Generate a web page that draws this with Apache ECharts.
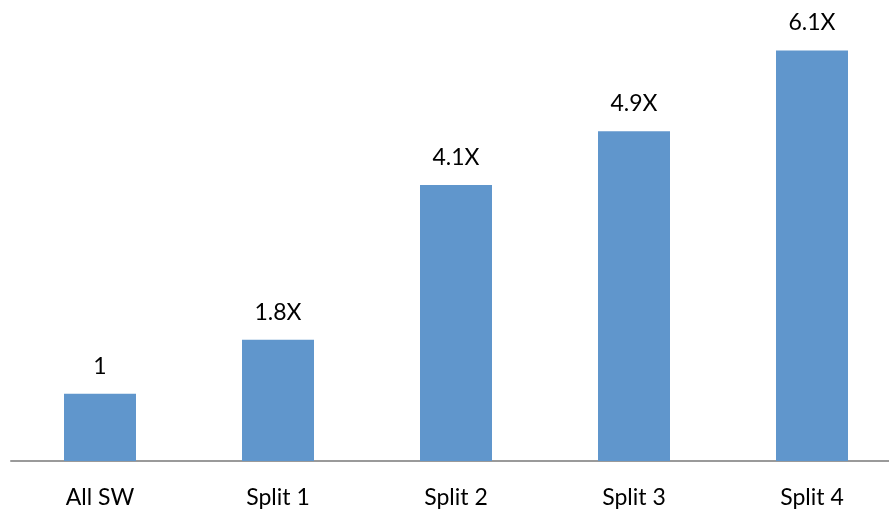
<!DOCTYPE html>
<html>
<head>
<meta charset="utf-8">
<script src="https://cdn.jsdelivr.net/npm/echarts@6/dist/echarts.min.js"></script>
<style>
  html, body { margin: 0; padding: 0; background: #fff; }
  #chart { width: 889px; height: 511px; }
</style>
</head>
<body>
<div id="chart"></div>
<script>
// Speedup of each split configuration relative to the all-software baseline
const categories = ['All SW', 'Split 1', 'Split 2', 'Split 3', 'Split 4'];
const speedups = [1, 1.8, 4.1, 4.9, 6.1];
const valueLabels = ['1', '1.8X', '4.1X', '4.9X', '6.1X'];

const chart = echarts.init(document.getElementById('chart'));
chart.setOption({
  animation: false,
  backgroundColor: '#ffffff',
  grid: {
    left: 11, width: 890, top: 0, bottom: 50,
    containLabel: false,
    outerBoundsMode: 'none'
  },
  xAxis: {
    type: 'category',
    data: categories,
    axisLine: { show: true, lineStyle: { color: '#9a9a9a', width: 2 } },
    axisTick: { show: false },
    axisLabel: {
      color: '#000',
      fontFamily: 'Lato',
      fontSize: 23,
      margin: 25
    }
  },
  yAxis: {
    type: 'value',
    min: 0,
    max: 6.85,
    show: false,
    splitLine: { show: false }
  },
  series: [{
    type: 'bar',
    data: speedups,
    barWidth: 72,
    itemStyle: { color: '#6096cc' },
    label: {
      show: true,
      position: 'top',
      distance: 16,
      color: '#000',
      fontFamily: 'Lato',
      fontSize: 23,
      formatter: p => valueLabels[p.dataIndex]
    }
  }]
});
</script>
</body>
</html>
